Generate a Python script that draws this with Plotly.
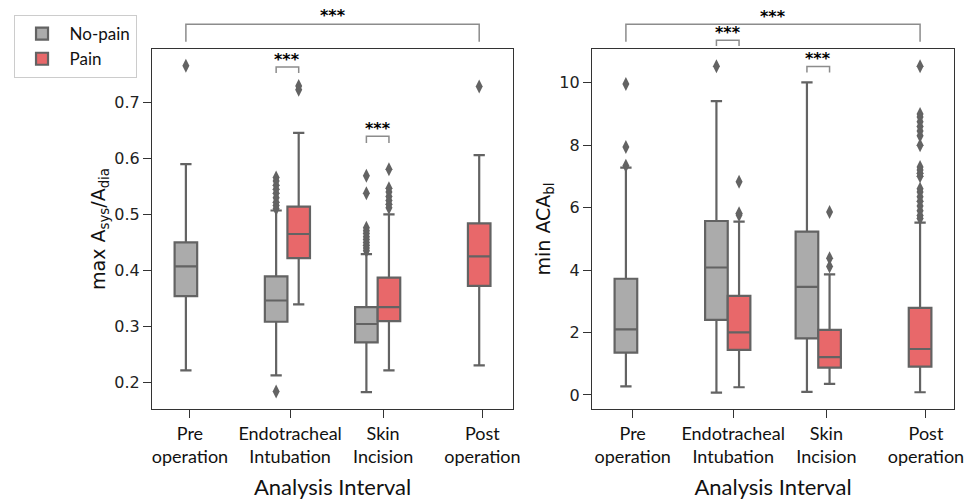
import plotly.graph_objects as go

categories = ["Pre<br>operation", "Endotracheal<br>Intubation", "Skin<br>Incision", "Post<br>operation"]
groups = ["No-pain", "Pain"]

# ---- left panel: max A_sys / A_dia ----
ratio_np_lo = [0.221, 0.212, 0.182, None]
ratio_np_q1 = [0.354, 0.308, 0.271, None]
ratio_np_med = [0.407, 0.346, 0.304, None]
ratio_np_q3 = [0.450, 0.389, 0.334, None]
ratio_np_hi = [0.590, 0.507, 0.429, None]
ratio_np_out = [
    [0.766],
    [0.183, 0.510, 0.516, 0.522, 0.530, 0.538, 0.545, 0.552, 0.560, 0.566],
    [0.435, 0.440, 0.445, 0.450, 0.455, 0.460, 0.466, 0.471, 0.476, 0.538, 0.569],
    [],
]
ratio_p_lo = [None, 0.339, 0.221, 0.230]
ratio_p_q1 = [None, 0.422, 0.309, 0.372]
ratio_p_med = [None, 0.465, 0.334, 0.425]
ratio_p_q3 = [None, 0.514, 0.387, 0.484]
ratio_p_hi = [None, 0.646, 0.500, 0.606]
ratio_p_out = [
    [],
    [0.723, 0.730],
    [0.512, 0.518, 0.525, 0.532, 0.540, 0.547, 0.581],
    [0.729],
]

# ---- right panel: min ACA_bl ----
aca_np_lo = [0.27, 0.075, 0.096, None]
aca_np_q1 = [1.355, 2.40, 1.81, None]
aca_np_med = [2.10, 4.08, 3.46, None]
aca_np_q3 = [3.72, 5.57, 5.23, None]
aca_np_hi = [7.28, 9.41, 10.01, None]
aca_np_out = [[7.34, 7.94, 9.96], [10.53], [], []]
aca_p_lo = [None, 0.245, 0.352, 0.085]
aca_p_q1 = [None, 1.44, 0.875, 0.907]
aca_p_med = [None, 2.00, 1.21, 1.47]
aca_p_q3 = [None, 3.17, 2.08, 2.785]
aca_p_hi = [None, 5.55, 3.86, 5.52]
aca_p_out = [
    [],
    [5.76, 5.82, 6.83],
    [4.11, 4.38, 5.86],
    [5.65, 5.75, 5.90, 6.05, 6.20, 6.35, 6.50, 6.60, 7.00, 7.10, 7.20, 7.30,
     8.00, 8.30, 8.45, 8.60, 8.75, 8.90, 9.00, 10.53],
]

# label tick positions (category units) as they appear in the figure
ratio_tick_pos = [-0.08, 1.03, 2.06, 3.16]
aca_tick_pos = [-0.05, 1.06, 2.09, 3.19]

# ---- styling ----
fill_colors = {"No-pain": "#ababab", "Pain": "#e8686a"}
line_color = "#636363"
offsets = {"No-pain": -0.125, "Pain": 0.125}
box_w = 0.25

fig = go.Figure()
legend_shown = set()


def add_panel(stats, xa, ya):
    for g in groups:
        lo, q1, med, q3, hi, outs = stats[g]
        for i in range(len(categories)):
            if med[i] is None:
                continue
            pos = i + offsets[g]
            show = g not in legend_shown
            legend_shown.add(g)
            fig.add_trace(go.Box(
                x=[pos], q1=[q1[i]], median=[med[i]], q3=[q3[i]],
                lowerfence=[lo[i]], upperfence=[hi[i]],
                width=box_w, whiskerwidth=0.5, boxpoints=False,
                fillcolor=fill_colors[g], line=dict(color=line_color, width=2.2),
                name=g, legendgroup=g, showlegend=show,
                xaxis=xa, yaxis=ya, hoverinfo="skip",
            ))
            if outs[i]:
                fig.add_trace(go.Scatter(
                    x=[pos] * len(outs[i]), y=outs[i], mode="markers",
                    marker=dict(symbol="diamond-tall", size=10, color=line_color,
                                line=dict(width=0)),
                    showlegend=False, legendgroup=g, xaxis=xa, yaxis=ya,
                    hoverinfo="skip",
                ))


add_panel({
    "No-pain": (ratio_np_lo, ratio_np_q1, ratio_np_med, ratio_np_q3, ratio_np_hi, ratio_np_out),
    "Pain": (ratio_p_lo, ratio_p_q1, ratio_p_med, ratio_p_q3, ratio_p_hi, ratio_p_out),
}, "x", "y")
add_panel({
    "No-pain": (aca_np_lo, aca_np_q1, aca_np_med, aca_np_q3, aca_np_hi, aca_np_out),
    "Pain": (aca_p_lo, aca_p_q1, aca_p_med, aca_p_q3, aca_p_hi, aca_p_out),
}, "x2", "y2")

# ---- significance brackets ----
# (xref, yref, cat_a, group_a, cat_b, group_b, y_leg, y_top, y_text)
brackets = [
    ("x", "paper", 0, "No-pain", 3, "Pain", 0.917, 0.952, 0.970),
    ("x", "y", 1, "No-pain", 1, "Pain", 0.753, 0.764, 0.777),
    ("x", "y", 2, "No-pain", 2, "Pain", 0.628, 0.640, 0.653),
    ("x2", "paper", 0, "No-pain", 3, "Pain", 0.917, 0.952, 0.968),
    ("x2", "paper", 1, "No-pain", 1, "Pain", 0.9085, 0.920, 0.936),
    ("x2", "y2", 2, "No-pain", 2, "Pain", 10.33, 10.52, 10.78),
]
for xr, yr, ca, ga, cb, gb, yl, yt, ytx in brackets:
    xa_ = ca + offsets[ga]
    xb_ = cb + offsets[gb]
    fig.add_shape(type="path", xref=xr, yref=yr,
                  path=f"M {xa_},{yl} L {xa_},{yt} L {xb_},{yt} L {xb_},{yl}",
                  line=dict(color="#8c8c8c", width=1.5))
    fig.add_annotation(x=(xa_ + xb_) / 2, y=ytx, xref=xr, yref=yr, text="<b>***</b>",
                       showarrow=False, font=dict(size=16, color="black", family="DejaVu Sans"),
                       yanchor="middle")

axis_common = dict(showline=True, mirror=True, linecolor="#333333", linewidth=1.2,
                   ticks="outside", ticklen=8, tickcolor="#333333", tickwidth=1.2,
                   showgrid=False, zeroline=False, automargin=False,
                   ticklabeloverflow="allow")

xtick_font = dict(family="Lato", size=18, color="#111111")
xtitle_font = dict(family="Lato", size=22, color="#111111")
ytick_font = dict(family="DejaVu Sans", size=16, color="#222222")
ytitle_font = dict(family="DejaVu Sans", size=19, color="#111111")

fig.update_layout(
    width=966, height=503,
    margin=dict(l=0, r=0, t=0, b=0, autoexpand=False),
    paper_bgcolor="white", plot_bgcolor="white",
    showlegend=True,
    legend=dict(x=0.014, y=0.97, xanchor="left", yanchor="top",
                bordercolor="#cccccc", borderwidth=1, bgcolor="white",
                font=dict(family="Lato", size=17, color="#111111"),
                itemwidth=45, tracegroupgap=0),
    xaxis=dict(domain=[0.1574, 0.5311], range=[-0.5, 3.5], tickmode="array",
               tickvals=ratio_tick_pos, ticktext=categories, tickfont=xtick_font,
               tickangle=0,
               title=dict(text="Analysis Interval", font=xtitle_font, standoff=13),
               **axis_common),
    yaxis=dict(domain=[0.187, 0.9026], range=[0.152, 0.796], tickmode="array",
               tickvals=[0.2, 0.3, 0.4, 0.5, 0.6, 0.7], tickformat=".1f",
               tickfont=ytick_font,
               title=dict(text="max A<sub>sys</sub>/A<sub>dia</sub>",
                          font=ytitle_font, standoff=3),
               **axis_common),
    xaxis2=dict(domain=[0.6128, 0.9876], range=[-0.5, 3.5], tickmode="array",
                tickvals=aca_tick_pos, ticktext=categories, anchor="y2", tickfont=xtick_font,
                tickangle=0,
                title=dict(text="Analysis Interval", font=xtitle_font, standoff=13),
                **axis_common),
    yaxis2=dict(domain=[0.187, 0.9026], range=[-0.45, 11.08], anchor="x2", tickmode="array",
                tickvals=[0, 2, 4, 6, 8, 10], tickfont=ytick_font,
                title=dict(text="min ACA<sub>bl</sub>", font=ytitle_font, standoff=3),
                **axis_common),
)

fig.write_html("out.html")
